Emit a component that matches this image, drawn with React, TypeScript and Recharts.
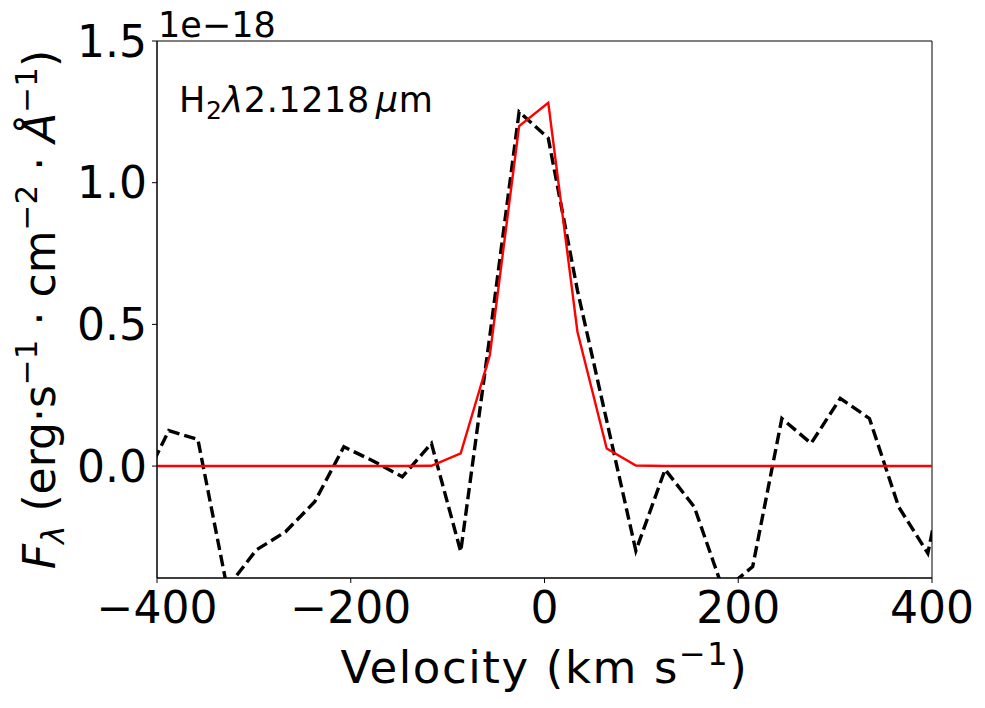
import React from 'react';
import { LineChart, Line, XAxis, YAxis, ReferenceArea } from 'recharts';

const velocity = [
  -418.1, -387.9, -357.8, -327.6, -297.5, -267.4, -237.2, -207.1, -176.9, -146.8,
  -116.7, -86.5, -56.4, -26.2, 3.9, 34.0, 64.2, 94.3, 124.5, 154.6,
  184.7, 214.9, 245.0, 275.2, 305.3, 335.4, 365.6, 395.7, 425.9,
];
const observed = [
  -0.085, 0.125, 0.094, -0.43, -0.296, -0.232, -0.126, 0.068, 0.018, -0.038,
  0.08, -0.302, 0.46, 1.25, 1.157, 0.62, 0.16, -0.299, -0.012, -0.144,
  -0.44, -0.355, 0.168, 0.08, 0.239, 0.168, -0.144, -0.308, 0.2,
];
const model = [
  0, 0, 0, 0, 0, 0, 0, 0, 0, 0,
  0.001, 0.045, 0.392, 1.2, 1.282, 0.474, 0.062, 0.002, 0, 0,
  0, 0, 0, 0, 0, 0, 0, 0, 0,
];
const xTicks = [-400, -200, 0, 200, 400];
const yTicks = [0, 0.5, 1.0, 1.5];
const xDomain = [-400, 400];
const yDomain = [-0.395, 1.5];

const FONT = '"DejaVu Sans", sans-serif';

const rows = velocity.map((v, i) => ({ v, obs: observed[i], fit: model[i] }));

const fmtX = (v: number) => String(v).replace('-', '\u2212');
const fmtY = (v: number) => v.toFixed(1).replace('-', '\u2212');

export default function App() {
  return (
    <div style={{ position: 'fixed', left: 0, top: 0, width: 985, height: 708, background: '#fff' }}>
      <LineChart width={985} height={708} data={rows} margin={{ top: 41, right: 53, bottom: 0, left: 0 }}>
        <XAxis
          dataKey="v"
          type="number"
          domain={xDomain}
          allowDataOverflow
          ticks={xTicks}
          interval={0}
          tickFormatter={fmtX}
          height={130}
          tickSize={5}
          tickMargin={9}
          axisLine={{ stroke: '#000', strokeWidth: 1 }}
          tickLine={{ stroke: '#000', strokeWidth: 1 }}
          tick={{ fill: '#000', fontSize: 44, fontFamily: FONT }}
        />
        <YAxis
          type="number"
          domain={yDomain}
          allowDataOverflow
          ticks={yTicks}
          interval={0}
          tickFormatter={fmtY}
          width={157}
          tickSize={5}
          tickMargin={5}
          axisLine={{ stroke: '#000', strokeWidth: 1 }}
          tickLine={{ stroke: '#000', strokeWidth: 1 }}
          tick={{ fill: '#000', fontSize: 44, fontFamily: FONT }}
        />
        <Line
          type="linear"
          dataKey="obs"
          stroke="#000"
          strokeWidth={3.4}
          strokeDasharray="11.5 5"
          dot={false}
          activeDot={false}
          isAnimationActive={false}
        />
        <Line
          type="linear"
          dataKey="fit"
          stroke="#ff0000"
          strokeWidth={2.4}
          dot={false}
          activeDot={false}
          isAnimationActive={false}
        />
        <ReferenceArea
          x1={xDomain[0]}
          x2={xDomain[1]}
          y1={yDomain[0]}
          y2={yDomain[1]}
          fill="none"
          fillOpacity={0}
          stroke="#000"
          strokeWidth={1}
          ifOverflow="visible"
        />
      </LineChart>
      <svg
        width={985}
        height={708}
        style={{ position: 'absolute', left: 0, top: 0, pointerEvents: 'none' }}
        fontFamily={FONT}
      >
        <text x={158} y={37} fontSize={35} fill="#000">1e{'\u2212'}18</text>
        <text x={179} y={112} fontSize={35} fill="#000" letterSpacing={0.6}>
          <tspan>H</tspan>
          <tspan fontSize={25} dy={7}>2</tspan>
          <tspan dy={-7} fontStyle="italic">λ</tspan>
          <tspan>2.1218</tspan>
          <tspan dx={6} fontStyle="italic">μ</tspan>
          <tspan>m</tspan>
        </text>
        <text x={544.5} y={683} fontSize={45} fill="#000" textAnchor="middle" letterSpacing={1.6}>
          <tspan>Velocity (km s</tspan>
          <tspan fontSize={32} dy={-18}>{'\u2212'}1</tspan>
          <tspan dy={18}>)</tspan>
        </text>
        <text transform="translate(55,309.5) rotate(-90)" fontSize={44} fill="#000" textAnchor="middle">
          <tspan fontStyle="italic">F</tspan>
          <tspan fontSize={31} dy={9} fontStyle="italic">λ</tspan>
          <tspan dy={-9}> (erg·s</tspan>
          <tspan fontSize={31} dy={-18}>{'\u2212'}1</tspan>
          <tspan dy={18}> · cm</tspan>
          <tspan fontSize={31} dy={-18}>{'\u2212'}2</tspan>
          <tspan dy={18}> · </tspan>
          <tspan fontStyle="italic">Å</tspan>
          <tspan fontSize={31} dy={-18}>{'\u2212'}1</tspan>
          <tspan dy={18}>)</tspan>
        </text>
      </svg>
    </div>
  );
}
